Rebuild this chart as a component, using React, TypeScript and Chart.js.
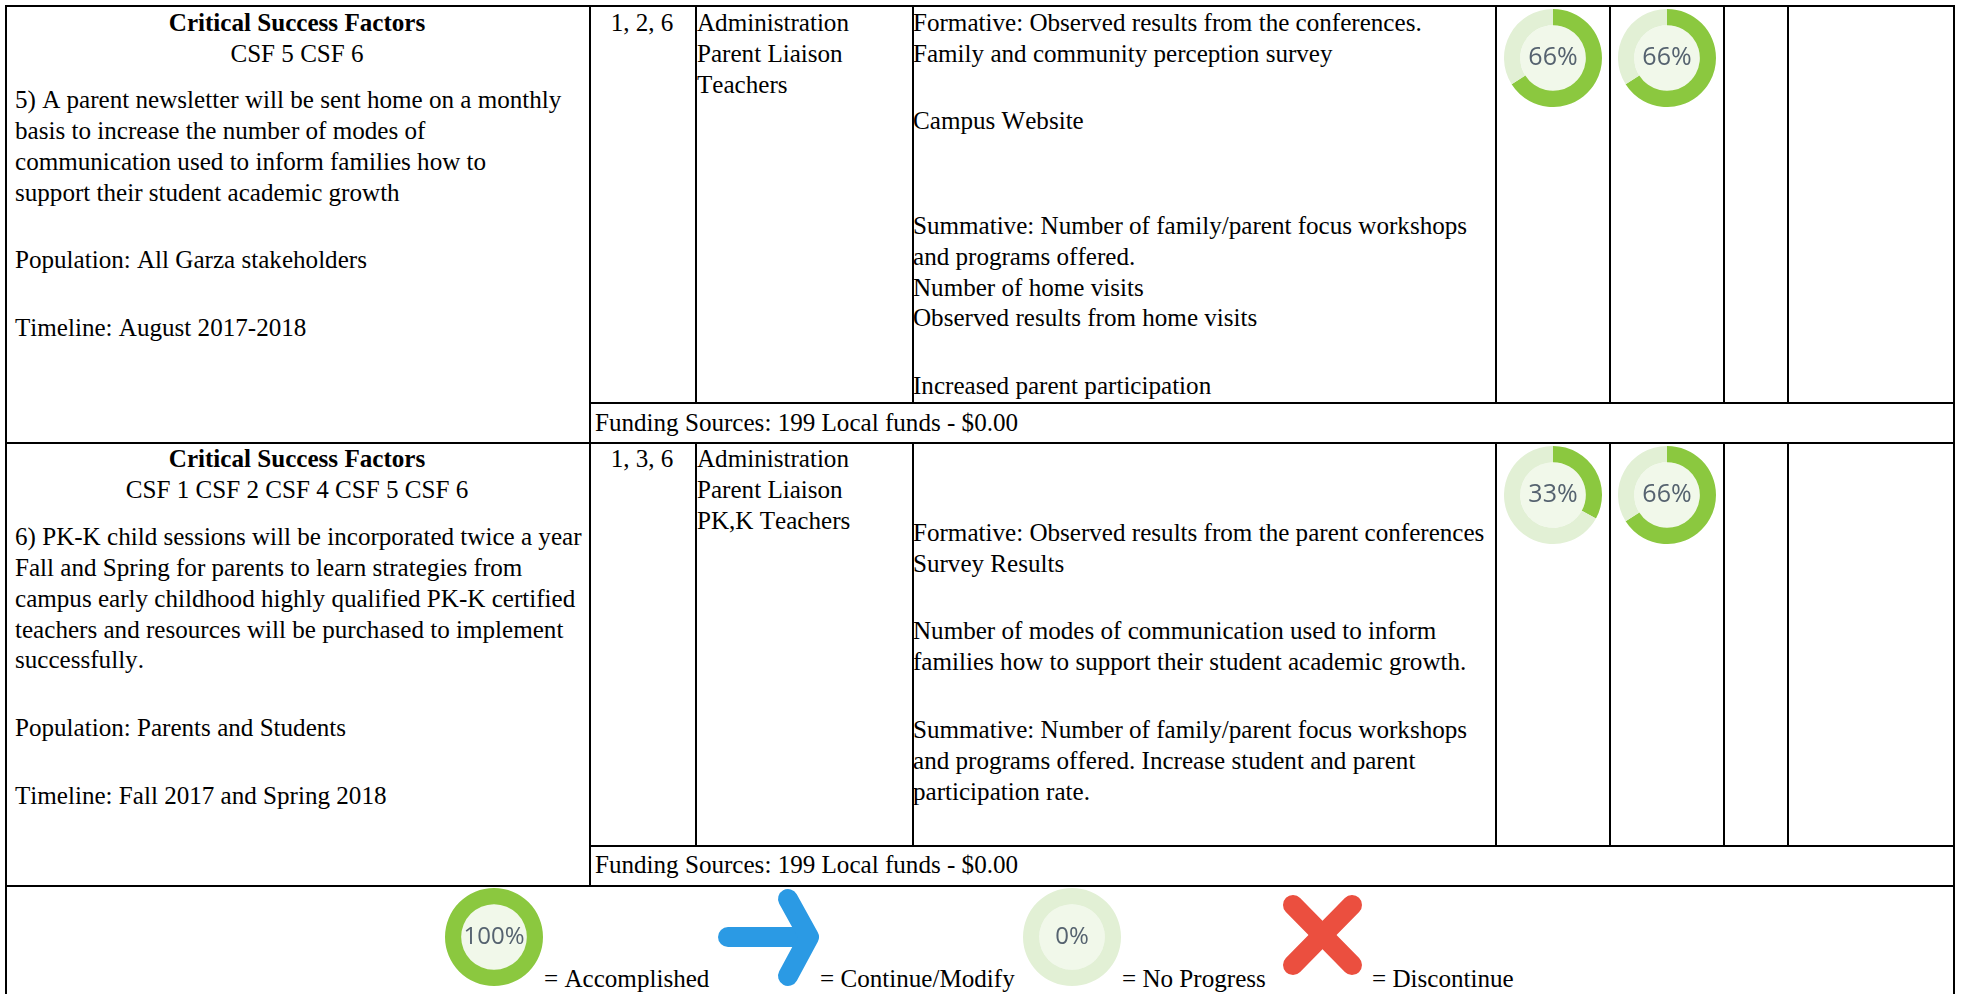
import React, { useEffect, useRef } from "react";
import { Chart, registerables } from "chart.js";

Chart.register(...registerables);

const progressLabels = ["Complete", "Remaining"];
const row1Progress = [66, 66];
const row2Progress = [33, 66];
const legendDonuts = [100, 0];

const col1Row1 = ["5) A parent newsletter will be sent home on a monthly", "basis to increase the number of modes of", "communication used to inform families how to", "support their student academic growth"];
const col1Row1Extra = ["Population: All Garza stakeholders", "Timeline: August 2017-2018"];
const col1Row2 = ["6) PK-K child sessions will be incorporated twice a year", "Fall and Spring for parents to learn strategies from", "campus early childhood highly qualified PK-K certified", "teachers and resources will be purchased to implement", "successfully."];
const col1Row2Extra = ["Population: Parents and Students", "Timeline: Fall 2017 and Spring 2018"];
const staffRow1 = ["Administration", "Parent Liaison", "Teachers"];
const staffRow2 = ["Administration", "Parent Liaison", "PK,K Teachers"];
const evalRow1 = ["Formative: Observed results from the conferences.", "Family and community perception survey", "Campus Website", "Summative: Number of family/parent focus workshops", "and programs offered.", "Number of home visits", "Observed results from home visits", "Increased parent participation"];
const evalRow2 = ["Formative: Observed results from the parent conferences", "Survey Results", "Number of modes of communication used to inform", "families how to support their student academic growth.", "Summative: Number of family/parent focus workshops", "and programs offered. Increase student and parent", "participation rate."];
const funding = "Funding Sources: 199 Local funds - $0.00";

const FONT_SIZE = 25.1;
const LINE = "#000";

type T = { t: string; x: number; y: number; center?: boolean; bold?: boolean };

function at(lines: string[], x: number, ys: number[]): T[] {
  return lines.map((t, i) => ({ t, x, y: ys[i] }));
}

const texts: T[] = [
  { t: "Critical Success Factors", x: 297, y: 23, center: true, bold: true },
  { t: "CSF 5 CSF 6", x: 297, y: 54, center: true },
  ...at(col1Row1, 15, [100, 131, 162, 193]),
  ...at(col1Row1Extra, 15, [260, 328]),
  { t: "1, 2, 6", x: 642, y: 23, center: true },
  ...at(staffRow1, 697, [23, 54, 85]),
  ...at(evalRow1, 913, [23, 54, 121, 226, 257, 288, 318, 386]),
  { t: funding, x: 595, y: 423 },
  { t: "Critical Success Factors", x: 297, y: 459, center: true, bold: true },
  { t: "CSF 1 CSF 2 CSF 4 CSF 5 CSF 6", x: 297, y: 490, center: true },
  ...at(col1Row2, 15, [537, 568, 599, 630, 660]),
  ...at(col1Row2Extra, 15, [728, 796]),
  { t: "1, 3, 6", x: 642, y: 459, center: true },
  ...at(staffRow2, 697, [459, 490, 521]),
  ...at(evalRow2, 913, [533, 564, 631, 662, 730, 761, 792]),
  { t: funding, x: 595, y: 865 },
  { t: "= Accomplished", x: 544, y: 979 },
  { t: "= Continue/Modify", x: 820, y: 979 },
  { t: "= No Progress", x: 1122, y: 979 },
  { t: "= Discontinue", x: 1372, y: 979 },
];

// [x, y, width, height]
const rules: number[][] = [
  [5, 5, 1950, 2], [5, 442, 1950, 2], [5, 885, 1950, 2],
  [590, 402, 1365, 2], [590, 845, 1365, 2],
  [5, 5, 2, 989], [1953, 5, 2, 989], [589, 5, 2, 882],
  ...[695, 912, 1495, 1609, 1723, 1787].flatMap((x) => [[x, 5, 2, 398], [x, 442, 2, 404]]),
];

const centerPlugin = {
  id: "centerPlugin",
  beforeDraw(chart: any) {
    const meta = chart.getDatasetMeta(0);
    const arc = meta.data[0];
    if (!arc) return;
    const { ctx } = chart;
    ctx.save();
    ctx.beginPath();
    ctx.arc(arc.x, arc.y, arc.innerRadius, 0, Math.PI * 2);
    ctx.fillStyle = "#f1f8ea";
    ctx.fill();
    ctx.restore();
  },
  afterDraw(chart: any) {
    const meta = chart.getDatasetMeta(0);
    const arc = meta.data[0];
    if (!arc) return;
    const { ctx } = chart;
    ctx.save();
    ctx.fillStyle = "#55626f";
    ctx.font = chart.options.plugins.centerPlugin.font;
    ctx.textAlign = "center";
    ctx.textBaseline = "middle";
    ctx.fillText(`${chart.data.datasets[0].data[0]}%`, arc.x, arc.y);
    ctx.restore();
  },
};

function Donut({ value, cx, cy, r, fontSize }: { value: number; cx: number; cy: number; r: number; fontSize: number }) {
  const ref = useRef<HTMLCanvasElement>(null);
  useEffect(() => {
    const chart = new Chart(ref.current!, {
      type: "doughnut",
      data: {
        labels: progressLabels,
        datasets: [{ data: [value, 100 - value], backgroundColor: ["#8bc83f", "#e2f0d5"], borderWidth: 0 }],
      },
      options: {
        animation: false,
        responsive: false,
        cutout: "67%",
        layout: { padding: 0 },
        plugins: {
          legend: { display: false },
          tooltip: { enabled: false },
          centerPlugin: { font: `${fontSize}px "Open Sans"` },
        } as any,
      },
      plugins: [centerPlugin],
    });
    return () => chart.destroy();
  }, [value, fontSize]);
  return (
    <canvas
      ref={ref}
      width={r * 2}
      height={r * 2}
      style={{ position: "absolute", left: cx - r, top: cy - r, width: r * 2, height: r * 2, filter: "blur(0.4px)" }}
    />
  );
}

export default function App() {
  return (
    <div style={{ position: "fixed", left: 0, top: 0, width: 1963, height: 994, overflow: "hidden", background: "#fff", fontFamily: '"Liberation Serif", serif', fontSize: FONT_SIZE, fontKerning: "none", color: "#000" }}>
      {rules.map(([x, y, w, h], i) => (
        <div key={i} style={{ position: "absolute", left: x, top: y, width: w, height: h, background: LINE }} />
      ))}
      {texts.map((s, i) => (
        <div
          key={i}
          style={{
            position: "absolute",
            left: s.x,
            top: s.y - 15,
            lineHeight: "30px",
            whiteSpace: "nowrap",
            fontWeight: s.bold ? 700 : 400,
            transform: s.center ? "translateX(-50%)" : undefined,
          }}
        >
          {s.t}
        </div>
      ))}
      {row1Progress.map((v, i) => <Donut key={`a${i}`} value={v} cx={1553 + i * 114} cy={58} r={49} fontSize={25} />)}
      {row2Progress.map((v, i) => <Donut key={`b${i}`} value={v} cx={1553 + i * 114} cy={495} r={49} fontSize={25} />)}
      <Donut value={legendDonuts[0]} cx={494} cy={937} r={49} fontSize={24} />
      <Donut value={legendDonuts[1]} cx={1072} cy={937} r={49} fontSize={24} />
      <svg width={1963} height={994} style={{ position: "absolute", left: 0, top: 0, pointerEvents: "none" }}>
        <g stroke="#2b9ae4" strokeWidth={20} strokeLinecap="round" strokeLinejoin="round" fill="none">
          <path d="M728 937 H808" />
          <path d="M788 899 L809 937 L788 976" />
        </g>
        <g stroke="#eb4f3f" strokeWidth={20} strokeLinecap="round" fill="none">
          <path d="M1293 905 L1352 965" />
          <path d="M1352 905 L1293 965" />
        </g>
      </svg>
    </div>
  );
}
